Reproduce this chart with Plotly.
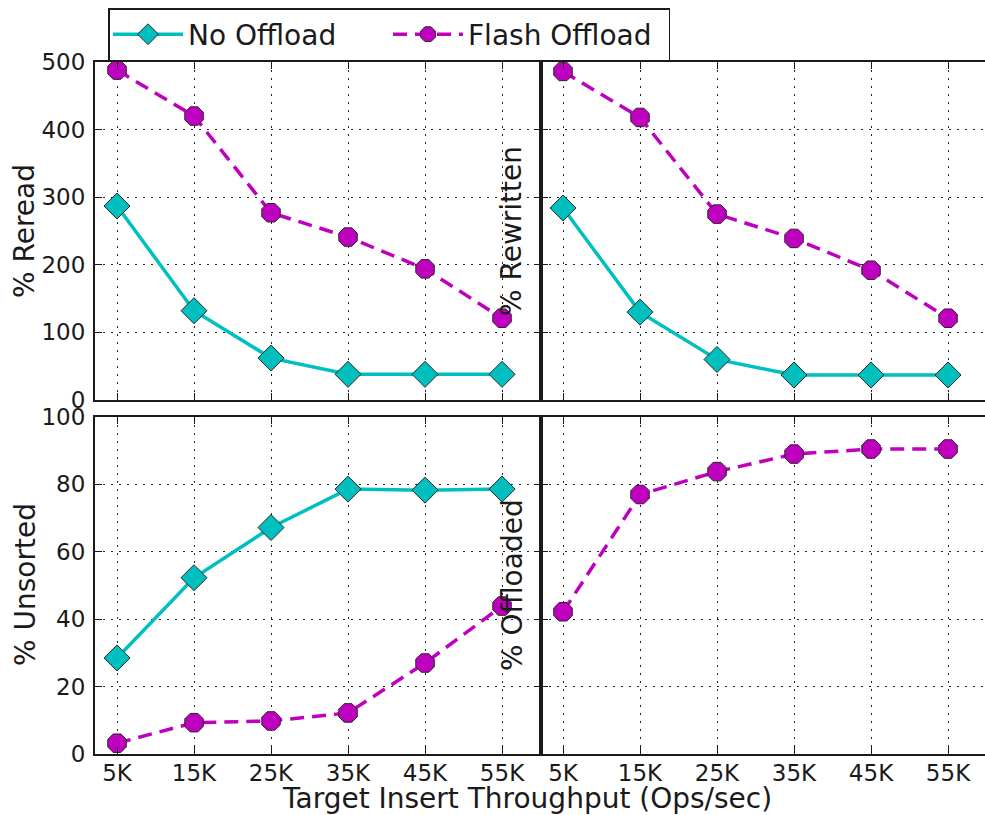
import plotly.graph_objects as go
from plotly.subplots import make_subplots

# Target insert throughput (thousands of ops/sec)
throughput = [5, 15, 25, 35, 45, 55]
tick_labels = ["5K", "15K", "25K", "35K", "45K", "55K"]

# Percentages per configuration
reread_none = [287, 132, 62, 38, 38, 38]
reread_flash = [488, 420, 277, 241, 194, 121]
rewritten_none = [284, 130, 60, 37, 37, 37]
rewritten_flash = [486, 418, 275, 239, 192, 121]
unsorted_none = [28.5, 52.3, 67.2, 78.6, 78.3, 78.6]
unsorted_flash = [3.2, 9.3, 9.8, 12.2, 27.0, 43.9]
offloaded_flash = [42.2, 77.0, 83.8, 89.0, 90.5, 90.5]

W, H = 985, 815
CYAN = "#00BFBF"
MAGENTA = "#BF00BF"
EDGE = "#262626"
FONT = "DejaVu Sans"


def px_x(p):
    return p / W


def px_y(p):
    return 1 - p / H


fig = make_subplots(rows=2, cols=2, horizontal_spacing=0, vertical_spacing=0.02)


def no_offload(y, show):
    return go.Scatter(
        x=throughput, y=y, name="No Offload", mode="lines+markers",
        line=dict(color=CYAN, width=3.5),
        marker=dict(symbol="diamond", size=20, color=CYAN,
                    line=dict(color=EDGE, width=1)),
        showlegend=show, legendgroup="none", cliponaxis=False,
    )


def flash(y, show):
    return go.Scatter(
        x=throughput, y=y, name="Flash Offload", mode="lines+markers",
        line=dict(color=MAGENTA, width=3.5, dash="14px,8px"),
        marker=dict(symbol="octagon", size=20, color=MAGENTA,
                    line=dict(color=EDGE, width=1)),
        showlegend=show, legendgroup="flash", cliponaxis=False,
    )


fig.add_trace(no_offload(reread_none, True), row=1, col=1)
fig.add_trace(flash(reread_flash, True), row=1, col=1)
fig.add_trace(no_offload(rewritten_none, False), row=1, col=2)
fig.add_trace(flash(rewritten_flash, False), row=1, col=2)
fig.add_trace(no_offload(unsorted_none, False), row=2, col=1)
fig.add_trace(flash(unsorted_flash, False), row=2, col=1)
fig.add_trace(flash(offloaded_flash, False), row=2, col=2)

grid = dict(showgrid=True, gridcolor="#222222", gridwidth=1, griddash="2px,6px",
            zeroline=False, showline=True, linecolor="#1a1a1a", linewidth=2,
            ticks="inside", ticklen=7, tickwidth=1.3, tickcolor="#1a1a1a",
            automargin=False,
            tickfont=dict(family=FONT, size=23, color="#1a1a1a"))

left_dom = [px_x(95), px_x(541)]
right_dom = [px_x(541), 1.0]
top_dom = [px_y(400), px_y(62)]
bot_dom = [px_y(754), px_y(417)]

xr_left = [2.14, 60.06]
xr_right = [2.14, 59.8]

for i, (dom, rng, labels) in enumerate(
        [(left_dom, xr_left, False), (right_dom, xr_right, False),
         (left_dom, xr_left, True), (right_dom, xr_right, True)], start=1):
    key = "xaxis" if i == 1 else f"xaxis{i}"
    fig.layout[key].update(domain=dom, range=rng, tickvals=throughput,
                           ticktext=tick_labels, showticklabels=labels,
                           mirror="ticks", ticklabelstandoff=-3, **grid)

for i, (dom, rng, step, labels) in enumerate(
        [(top_dom, [0, 500], 100, True), (top_dom, [0, 500], 100, False),
         (bot_dom, [0, 100], 20, True), (bot_dom, [0, 100], 20, False)], start=1):
    key = "yaxis" if i == 1 else f"yaxis{i}"
    fig.layout[key].update(domain=dom, range=rng, dtick=step, tick0=0,
                           showticklabels=labels,
                           mirror="ticks" if labels else False,
                           ticklabelstandoff=3, **grid)

title_font = dict(family=FONT, size=28, color="#1a1a1a")
y_titles = [
    ("% Reread", 25, 231),
    ("% Rewritten", 512, 231),
    ("% Unsorted", 25, 585),
    ("% Offloaded", 512, 585),
]
for text, xp, yp in y_titles:
    fig.add_annotation(text=text, x=px_x(xp), y=px_y(yp), xref="paper", yref="paper",
                       textangle=-90, showarrow=False, font=title_font,
                       xanchor="center", yanchor="middle")

fig.add_annotation(text="Target Insert Throughput (Ops/sec)", x=px_x(527), y=px_y(798),
                   xref="paper", yref="paper", showarrow=False, font=title_font,
                   xanchor="center", yanchor="middle")

fig.update_layout(
    width=W, height=H,
    margin=dict(l=0, r=0, t=0, b=0, autoexpand=False),
    paper_bgcolor="white", plot_bgcolor="white",
    font=dict(family=FONT, color="#1a1a1a"),
    legend=dict(orientation="h", x=px_x(108), y=px_y(8), xanchor="left", yanchor="top",
                bordercolor="#1a1a1a", borderwidth=1.5, bgcolor="white",
                font=dict(family=FONT, size=28, color="#1a1a1a"),
                itemwidth=70, entrywidth=195, tracegroupgap=0),
)

fig.write_html("out.html")
